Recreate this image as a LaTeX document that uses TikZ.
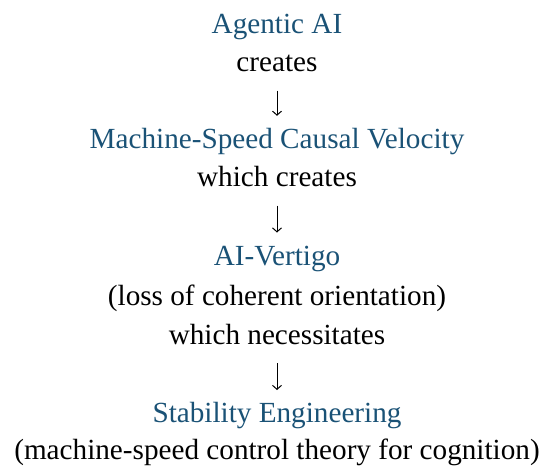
\documentclass[tikz,border=0pt]{standalone}
\usepackage{fontspec}
\setmainfont{Liberation Serif}
\usetikzlibrary{arrows.meta}
\definecolor{deepteal}{HTML}{1A5276}
\begin{document}
\begin{tikzpicture}[x=1pt, y=1pt, -{Straight Barb[length=4pt,width=9pt]}, line width=1pt,
      every node/.append style={inner sep=0pt, anchor=base,
        font=\fontsize{29.2}{35}\selectfont}]
    \tikzstyle{concept} = [color=deepteal]
    \tikzstyle{word} = [color=black]
    \useasboundingbox (0,0) rectangle (542,-467);
    \node (agentic) [concept] at (277,-33) {Agentic AI};
    \node (creates) [word] at (277,-71.5) {creates};
    \node (velocity) [concept] at (277,-148.3) {Machine-Speed Causal Velocity};
    \node (whichcreates) [word] at (277,-186.7) {which creates};
    \node (vertigo) [concept] at (277,-265) {AI-Vertigo};
    \node (loss) [word] at (277,-305) {(loss of coherent orientation)};
    \node (necessitates) [word] at (277,-344) {which necessitates};
    \node (stability) [concept] at (277,-422.5) {Stability Engineering};
    \node (control) [word] at (277,-459) {(machine-speed control theory for cognition)};
    \foreach \from/\to in {creates/velocity, whichcreates/vertigo, necessitates/stability}
      \draw ([yshift=-19pt]\from.base) -- ([yshift=32.5pt]\to.base);
\end{tikzpicture}
\end{document}
